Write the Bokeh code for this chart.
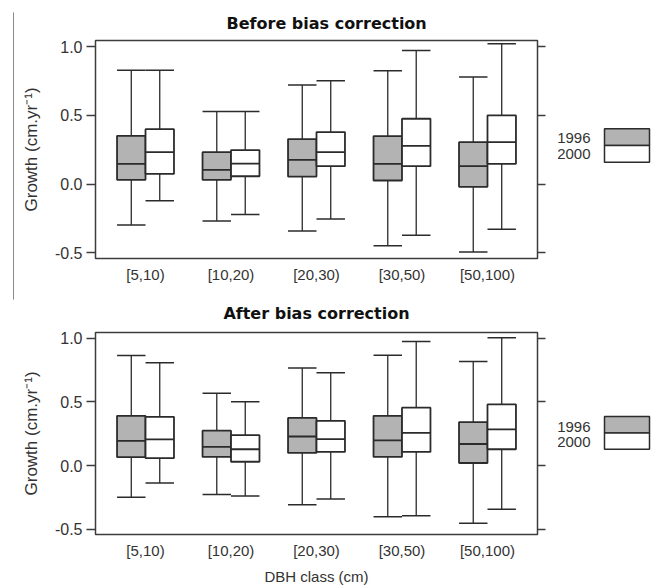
from bokeh.plotting import figure
from bokeh.models import (FactorRange, Range1d, LinearAxis, FixedTicker, PrintfTickFormatter,
                          CustomJSTickFormatter, ColumnDataSource)
from bokeh.layouts import row, column
from bokeh.transform import dodge
from bokeh.core.properties import value
from bokeh.embed import file_html
from bokeh.resources import INLINE

categories = ["[5,10)", "[10,20)", "[20,30)", "[30,50)", "[50,100)"]
years = ["1996", "2000"]
y_ticks = [-0.5, 0.0, 0.5, 1.0]

# Before bias correction
before_1996_low = [-0.296, -0.267, -0.340, -0.447, -0.493]
before_1996_q1 = [0.032, 0.032, 0.056, 0.027, -0.019]
before_1996_med = [0.148, 0.104, 0.177, 0.148, 0.131]
before_1996_q3 = [0.352, 0.233, 0.328, 0.350, 0.306]
before_1996_up = [0.828, 0.529, 0.721, 0.825, 0.779]

before_2000_low = [-0.121, -0.221, -0.252, -0.371, -0.328]
before_2000_q1 = [0.075, 0.058, 0.131, 0.131, 0.148]
before_2000_med = [0.233, 0.150, 0.233, 0.279, 0.306]
before_2000_q3 = [0.400, 0.248, 0.379, 0.476, 0.500]
before_2000_up = [0.828, 0.529, 0.752, 0.973, 1.022]

# After bias correction
after_1996_low = [-0.247, -0.226, -0.306, -0.401, -0.452]
after_1996_q1 = [0.067, 0.069, 0.100, 0.069, 0.021]
after_1996_med = [0.195, 0.147, 0.229, 0.198, 0.170]
after_1996_q3 = [0.391, 0.275, 0.375, 0.391, 0.342]
after_1996_up = [0.864, 0.568, 0.766, 0.866, 0.817]

after_2000_low = [-0.136, -0.237, -0.262, -0.393, -0.342]
after_2000_q1 = [0.059, 0.031, 0.108, 0.108, 0.129]
after_2000_med = [0.206, 0.129, 0.208, 0.257, 0.285]
after_2000_q3 = [0.383, 0.239, 0.352, 0.455, 0.481]
after_2000_up = [0.807, 0.501, 0.730, 0.974, 1.003]

GRAY = "#b3b3b3"
LINE = "#2b2b2b"
FRAME = "#3c3c3c"
FONT = "Liberation Sans"
BOX_W = 0.333


def make_source(low, q1, med, q3, up):
    return ColumnDataSource(dict(cat=categories, low=low, q1=q1, med=med, q3=q3, up=up))


def draw_boxes(p, src, off, fill):
    xr = p.x_range
    xc = dodge("cat", off, range=xr)
    xl = dodge("cat", off - BOX_W / 2, range=xr)
    xh = dodge("cat", off + BOX_W / 2, range=xr)
    p.segment(x0=xc, y0="q3", x1=xc, y1="up", source=src, line_color=LINE, line_width=1.3)
    p.segment(x0=xc, y0="low", x1=xc, y1="q1", source=src, line_color=LINE, line_width=1.3)
    p.vbar(x=xc, width=BOX_W, top="q3", bottom="q1", source=src,
           fill_color=fill, line_color=LINE, line_width=1.8)
    p.segment(x0=xl, y0="med", x1=xh, y1="med", source=src, line_color=LINE, line_width=1.8)
    p.segment(x0=xl, y0="up", x1=xh, y1="up", source=src, line_color=LINE, line_width=1.5)
    p.segment(x0=xl, y0="low", x1=xh, y1="low", source=src, line_color=LINE, line_width=1.5)


def panel(title, title_align, title_offset, title_standoff, s96, s00, height, btop, bbottom, xlabel):
    p = figure(x_range=FactorRange(*categories, range_padding=0.034),
               y_range=Range1d(-0.54, 1.045),
               width=543, height=height, output_backend="svg", toolbar_location=None,
               min_border_left=81, min_border_right=20,
               min_border_top=btop, min_border_bottom=bbottom)
    p.title.text = title
    p.title.text_font = "DejaVu Sans"
    p.title.text_font_style = "bold"
    p.title.text_font_size = "16px"
    p.title.text_color = "#111111"
    p.title.align = title_align
    p.title.offset = title_offset
    p.title.standoff = title_standoff
    p.xgrid.grid_line_color = None
    p.ygrid.grid_line_color = None
    p.outline_line_color = FRAME
    p.outline_line_width = 1.5
    p.background_fill_color = "white"
    p.border_fill_color = "white"

    ya = p.yaxis[0]
    ya.ticker = FixedTicker(ticks=y_ticks)
    ya.formatter = PrintfTickFormatter(format="%.1f")
    ya.major_label_text_font = FONT
    ya.major_label_text_font_size = "16px"
    ya.major_label_text_color = "#333333"
    ya.major_tick_out = 9
    ya.major_tick_in = 0
    ya.major_tick_line_color = FRAME
    ya.major_tick_line_width = 1.5
    ya.minor_tick_line_color = None
    ya.axis_line_color = None
    ya.major_label_standoff = 4
    ya.axis_label = "Growth (cm.yr\u207b\u00b9)"
    ya.axis_label_text_font = FONT
    ya.axis_label_text_font_size = "17px"
    ya.axis_label_text_font_style = "normal"
    ya.axis_label_text_color = "#333333"
    ya.axis_label_standoff = 11

    ra = LinearAxis(ticker=FixedTicker(ticks=y_ticks),
                    formatter=CustomJSTickFormatter(code="return ''"))
    ra.major_tick_out = 8
    ra.major_tick_in = 0
    ra.major_tick_line_color = FRAME
    ra.major_tick_line_width = 1.5
    ra.minor_tick_line_color = None
    ra.axis_line_color = None
    ra.major_label_standoff = 0
    p.add_layout(ra, "right")

    xa = p.xaxis[0]
    xa.major_tick_out = 0
    xa.major_tick_in = 0
    xa.axis_line_color = None
    xa.major_label_text_font = FONT
    xa.major_label_text_font_size = "15px"
    xa.major_label_text_color = "#333333"
    xa.major_label_standoff = 7
    if xlabel:
        xa.axis_label = xlabel
        xa.axis_label_text_font = FONT
        xa.axis_label_text_font_size = "15px"
        xa.axis_label_text_font_style = "normal"
        xa.axis_label_text_color = "#333333"
        xa.axis_label_standoff = 6

    draw_boxes(p, s96, -BOX_W / 2, GRAY)
    draw_boxes(p, s00, BOX_W / 2, "white")
    return p


def legend_fig(height, frame_top, frame_bottom, box_top, row_h, text_y):
    # the row aligns this figure's frame with the panel's frame; y is in page pixels
    lg = figure(width=101, height=height, x_range=Range1d(0, 101),
                y_range=Range1d(frame_bottom, frame_top),
                output_backend="svg", toolbar_location=None, min_border=0,
                x_axis_location=None, y_axis_location=None)
    lg.xgrid.grid_line_color = None
    lg.ygrid.grid_line_color = None
    lg.outline_line_color = None
    lg.quad(left=[47, 47], right=[92, 92],
            top=[box_top, box_top + row_h], bottom=[box_top + row_h, box_top + 2 * row_h],
            fill_color=[GRAY, "white"], line_color=LINE, line_width=1.5)
    lg.text(x=[33, 33], y=[text_y, text_y + 16], text=years, text_align="right",
            text_baseline="middle", text_font=value(FONT), text_font_size="15px",
            text_color="#333333")
    return lg


def strip():
    s = figure(width=14, height=587, x_range=Range1d(0, 14), y_range=Range1d(587, 0),
               output_backend="svg", toolbar_location=None, min_border=0,
               x_axis_location=None, y_axis_location=None)
    s.xgrid.grid_line_color = None
    s.ygrid.grid_line_color = None
    s.outline_line_color = None
    s.segment(x0=[13.5], y0=[12], x1=[13.5], y1=[299], line_color="#666666", line_width=1.5)
    return s


p1 = panel("Before bias correction", "left", 131, 16,
           make_source(before_1996_low, before_1996_q1, before_1996_med, before_1996_q3, before_1996_up),
           make_source(before_2000_low, before_2000_q1, before_2000_med, before_2000_q3, before_2000_up),
           290, 40, 32, None)
p2 = panel("After bias correction", "center", 0, 19,
           make_source(after_1996_low, after_1996_q1, after_1996_med, after_1996_q3, after_1996_up),
           make_source(after_2000_low, after_2000_q1, after_2000_med, after_2000_q3, after_2000_up),
           297, 42, 49, "DBH class (cm)")

l1 = legend_fig(290, 40, 258, 128.3, 16.7, 137.3)
l2 = legend_fig(297, 332, 538, 417.7, 16.7, 428)

layout = row(strip(), column(row(p1, l1), row(p2, l2)))

with open("out.html", "w") as f:
    f.write(file_html(layout, INLINE))
